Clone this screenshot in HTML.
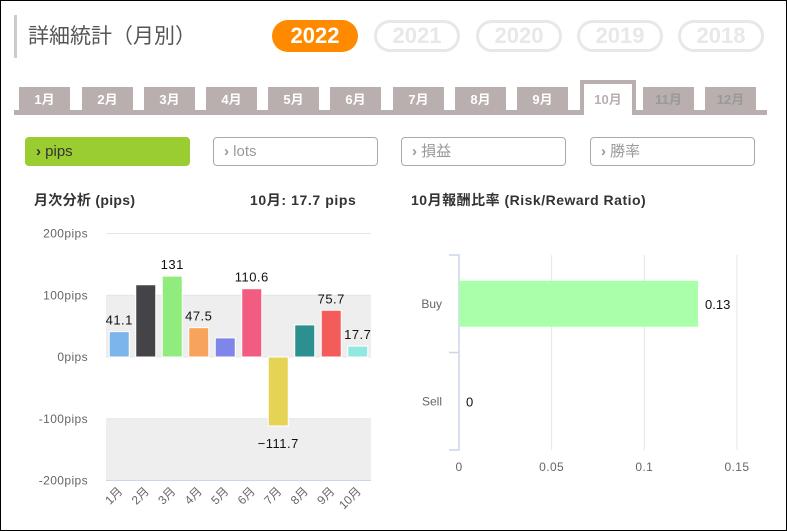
<!DOCTYPE html>
<html><head><meta charset="utf-8"><style>
body{margin:0;width:787px;height:531px;overflow:hidden;font-family:"Liberation Sans","Noto Sans CJK JP",sans-serif;background:#fff}
#frame{position:absolute;left:0;top:0;width:785px;height:529px;border:1px solid #000}
.abs{position:absolute}
.yr{position:absolute;top:20px;height:32px;width:86px;border-radius:16px;font:bold 22px "Liberation Sans",sans-serif;line-height:26px;text-align:center;box-sizing:border-box}
.tab{position:absolute;top:87px;height:24px;width:51px;background:#b8afae;color:#fff;font:bold 13px "Liberation Sans","Noto Sans CJK JP",sans-serif;text-align:center;line-height:26px}
.btn{position:absolute;top:137px;height:29px;width:165px;box-sizing:border-box;border:1px solid #aaa;border-radius:4px;color:#999;font-size:15px;line-height:27px;padding-left:10px}
</style></head><body>
<div id="frame"></div>
<div class="abs" style="left:14px;top:15px;width:3px;height:43px;background:#ccc"></div>
<div class="abs" style="left:28px;top:20px;font-size:21px;color:#555">詳細統計（月別）</div>
<div class="yr" style="left:272px;background:#ff8a00;color:#fff;line-height:32px">2022</div>
<div class="yr" style="left:374px;border:3px solid #e8e8e8;color:#e8e8e8">2021</div>
<div class="yr" style="left:476px;border:3px solid #e8e8e8;color:#e8e8e8">2020</div>
<div class="yr" style="left:577px;border:3px solid #e8e8e8;color:#e8e8e8">2019</div>
<div class="yr" style="left:678px;border:3px solid #e8e8e8;color:#e8e8e8">2018</div>
<div class="abs" style="left:14px;top:110px;width:753px;height:5px;background:#b8afae"></div>
<div class="tab" style="left:19px">1月</div>
<div class="tab" style="left:82px">2月</div>
<div class="tab" style="left:144px">3月</div>
<div class="tab" style="left:206px">4月</div>
<div class="tab" style="left:268px">5月</div>
<div class="tab" style="left:330px">6月</div>
<div class="tab" style="left:393px">7月</div>
<div class="tab" style="left:455px">8月</div>
<div class="tab" style="left:517px">9月</div>
<div class="tab" style="left:580px;top:80px;height:35px;width:56px;box-sizing:border-box;border:4px solid #b8afae;border-bottom:none;background:#fff;color:#b8afae;line-height:32px">10月</div>
<div class="tab" style="left:643px;color:#999">11月</div>
<div class="tab" style="left:705px;color:#999">12月</div>
<div class="btn" style="left:25px;background:#9acd32;border-color:#9acd32;color:#333"><b>›</b> pips</div>
<div class="btn" style="left:213px"><b>›</b> lots</div>
<div class="btn" style="left:401px"><b>›</b> 損益</div>
<div class="btn" style="left:590px"><b>›</b> 勝率</div>
<div class="abs" style="left:34px;top:190px;font-size:14px;font-weight:bold;color:#333;letter-spacing:0.3px">月次分析 (pips)</div>
<div class="abs" style="left:250px;top:190px;font-size:14px;font-weight:bold;color:#333;letter-spacing:0.6px">10月:  17.7 pips</div>
<div class="abs" style="left:411px;top:190px;font-size:14px;font-weight:bold;color:#333;letter-spacing:0.5px">10月報酬比率 (Risk/Reward Ratio)</div>
<svg class="abs" style="left:0;top:0" width="787" height="531" id="svg"></svg>
<script>
const months=["1月","2月","3月","4月","5月","6月","7月","8月","9月","10月"];
const pips=[41.1,117,131,47.5,31,110.6,-111.7,52,75.7,17.7];
const showLabel=[true,false,true,true,false,true,true,false,true,true];
const colors=["#7cb5ec","#434348","#90ed7d","#f7a35c","#8085e9","#f15c80","#e4d354","#2b908f","#f45b5b","#91e8e1"];
const yTicks=[200,100,0,-100,-200];
const rrCats=["Buy","Sell"];
const rrVals=[0.129,0];
const rrLabels=["0.13","0"];
const xTicks=[0,0.05,0.1,0.15];
const NS="http://www.w3.org/2000/svg";
const svg=document.getElementById('svg');
function mk(t,a,txt){const e=document.createElementNS(NS,t);for(const k in a)e.setAttribute(k,a[k]);if(txt!==undefined)e.textContent=txt;svg.appendChild(e);return e;}
const L=106,R=371,Y=v=>357-v*0.6175;const cw=(R-L)/months.length;
let e;
e=mk('rect',{x:L,y:Y(100),width:R-L,height:Y(0)-Y(100),fill:"#eeeeee"});


e=mk('rect',{x:L,y:Y(-100),width:R-L,height:Y(-200)-Y(-100),fill:"#eeeeee"});


yTicks.forEach(t=>{
 e=mk('line',{x1:L,x2:R,y1:Y(t),y2:Y(t),stroke:t==-200?"#ccd6eb":"#e6e6e6"});
 
 
 e=mk('text',{x:88,y:Y(t)+4,"text-anchor":"end","font-size":12,fill:"#666","letter-spacing":"0.4"},t+"pips");
 
 
});
months.forEach((m,i)=>{
 const cx=L+cw*(i+0.5),v=pips[i];
 e=mk('rect',{x:cx-10,y:Math.min(Y(v),Y(0)),width:20,height:Math.abs(Y(v)-Y(0)),fill:colors[i],stroke:"#fff","stroke-width":1});
 
 
 if(showLabel[i]){
  e=mk('text',{x:cx,y:v>=0?Y(v)-7:Y(v)+22,"text-anchor":"middle","font-size":13,fill:"#111","letter-spacing":"0.5"},(v<0?"−"+(-v):String(v)));
  
  
 }
 e=mk('text',{x:cx+4,y:492,"text-anchor":"end","font-size":12,fill:"#666",transform:`rotate(-45 ${cx+4} 492)`},m);
 
 
});
const X0=459,X=v=>X0+v*1853,T=255,B=450,bh=(B-T)/rrCats.length;
xTicks.forEach(t=>{
 if(t>0){e=mk('line',{x1:X(t),x2:X(t),y1:T,y2:B,stroke:"#e6e6e6"});
 
 }
 e=mk('text',{x:X(t),y:471,"text-anchor":"middle","font-size":12,fill:"#666","letter-spacing":"0.4"},String(t));
 
 
});
e=mk('path',{d:`M${X0-10} ${T}H${X0}V${B}H${X0-10}M${X0-10} ${T+bh}H${X0}`,stroke:"#ccd6eb","stroke-width":1.5,fill:"none"});


rrCats.forEach((c,i)=>{
 const cy=T+bh*(i+0.5);
 e=mk('text',{x:442,y:cy+4,"text-anchor":"end","font-size":12,fill:"#666"},c);
 
 
 if(rrVals[i]>0){e=mk('rect',{x:X0,y:cy-23,width:X(rrVals[i])-X0,height:46,fill:"#aaffaa"});
 
 }
 e=mk('text',{x:X(rrVals[i])+7,y:cy+5,"font-size":13,fill:"#111"},rrLabels[i]);
 
 
});
</script>
</body></html>
